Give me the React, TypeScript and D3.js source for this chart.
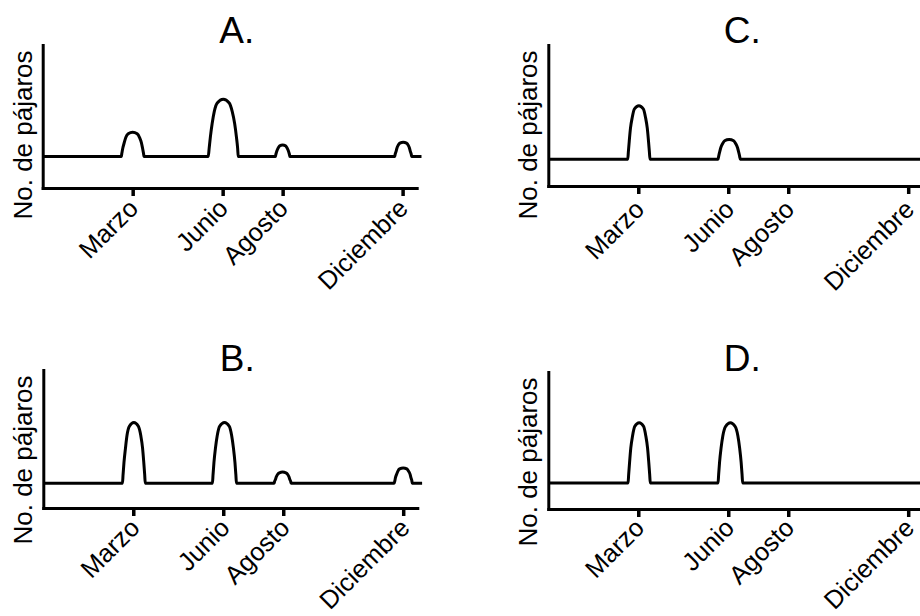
import React, { useEffect, useRef } from 'react';
import * as d3 from 'd3';

// ---- Data (month index on x, relative number of birds on y, 0–100) ----
const monthTicks: number[] = [3, 6, 8, 12];
const monthLabels: string[] = ['Marzo', 'Junio', 'Agosto', 'Diciembre'];
const yLabel = 'No. de pájaros';
const panelTitles: string[] = ['A.', 'B.', 'C.', 'D.'];

const seriesA: [number, number][] = [
  [0, 22],
  [2.62, 22], [2.64, 24.4], [2.67, 27.8], [2.72, 31.8], [2.77, 35.3], [2.85, 37.9], [3.0, 39],
  [3.15, 37.9], [3.23, 35.3], [3.29, 31.8], [3.33, 27.8], [3.36, 24.4], [3.38, 22],
  [5.52, 22], [5.55, 27.7], [5.59, 35.6], [5.65, 45.1], [5.72, 53.4], [5.82, 59.4], [6.02, 62],
  [6.22, 59.4], [6.32, 53.4], [6.4, 45.1], [6.46, 35.6], [6.5, 27.7], [6.52, 22],
  [7.76, 22], [7.77, 23.1], [7.79, 24.7], [7.82, 26.6], [7.86, 28.3], [7.9, 29.5], [8.0, 30],
  [8.1, 29.5], [8.14, 28.3], [8.18, 26.6], [8.21, 24.7], [8.23, 23.1], [8.24, 22],
  [11.74, 22], [11.75, 23.4], [11.78, 25.4], [11.81, 27.8], [11.85, 29.8], [11.91, 31.4], [12.02, 32],
  [12.13, 31.4], [12.19, 29.8], [12.23, 27.8], [12.26, 25.4], [12.29, 23.4], [12.3, 22],
  [12.63, 22],
];

const seriesB: [number, number][] = [
  [0, 18],
  [2.64, 18], [2.66, 24.3], [2.69, 33], [2.74, 43.4], [2.79, 52.5], [2.87, 59.2], [3.02, 62],
  [3.17, 59.2], [3.25, 52.5], [3.31, 43.4], [3.35, 33], [3.38, 24.3], [3.4, 18],
  [5.64, 18], [5.66, 24.3], [5.69, 33], [5.74, 43.4], [5.8, 52.5], [5.88, 59.2], [6.04, 62],
  [6.2, 59.2], [6.28, 52.5], [6.34, 43.4], [6.39, 33], [6.42, 24.3], [6.44, 18],
  [7.7, 18], [7.71, 19.1], [7.74, 20.7], [7.77, 22.6], [7.81, 24.3], [7.87, 25.5], [7.98, 26],
  [8.09, 25.5], [8.15, 24.3], [8.19, 22.6], [8.22, 20.7], [8.25, 19.1], [8.26, 18],
  [11.7, 18], [11.72, 19.6], [11.74, 21.8], [11.78, 24.4], [11.82, 26.6], [11.88, 28.3], [12.0, 29],
  [12.12, 28.3], [12.18, 26.6], [12.23, 24.4], [12.26, 21.8], [12.29, 19.6], [12.3, 18],
  [12.63, 18],
];

const seriesC: [number, number][] = [
  [0, 19],
  [2.65, 19], [2.67, 24.4], [2.7, 32], [2.74, 41], [2.8, 48.8], [2.87, 54.6], [3.02, 57],
  [3.17, 54.6], [3.24, 48.8], [3.3, 41], [3.34, 32], [3.37, 24.4], [3.39, 19],
  [5.66, 19], [5.68, 21], [5.71, 23.8], [5.75, 27.1], [5.81, 30], [5.88, 32.1], [6.03, 33],
  [6.18, 32.1], [6.25, 30], [6.31, 27.1], [6.35, 23.8], [6.38, 21], [6.4, 19],
  [12.63, 19],
];

const seriesD: [number, number][] = [
  [0, 19],
  [2.66, 19], [2.68, 25.3], [2.71, 34], [2.75, 44.4], [2.81, 53.5], [2.88, 60.2], [3.03, 63],
  [3.18, 60.2], [3.25, 53.5], [3.31, 44.4], [3.35, 34], [3.38, 25.3], [3.4, 19],
  [5.66, 19], [5.68, 25.3], [5.71, 34], [5.76, 44.4], [5.82, 53.5], [5.91, 60.2], [6.07, 63],
  [6.23, 60.2], [6.32, 53.5], [6.38, 44.4], [6.43, 34], [6.46, 25.3], [6.48, 19],
  [12.63, 19],
];

const X_MAX = 12.47;
const Y_MAX = 100;

// ---- Layout (pixel positions of each panel) ----
const panels = [
  { title: panelTitles[0], data: seriesA, axisX: 42.7, axisTop: 45, axisY: 188, titleY: 43, labelDx: 6.5, labelDy: 22 },
  { title: panelTitles[1], data: seriesB, axisX: 43.3, axisTop: 370, axisY: 508, titleY: 371, labelDx: 7.5, labelDy: 21.5 },
  { title: panelTitles[2], data: seriesC, axisX: 548.3, axisTop: 45, axisY: 186, titleY: 43, labelDx: 7, labelDy: 25 },
  { title: panelTitles[3], data: seriesD, axisX: 548.3, axisTop: 372, axisY: 509, titleY: 371, labelDx: 7, labelDy: 20.5 },
];

const FONT = '"Liberation Sans", Arial, Helvetica, sans-serif';

export default function App() {
  const ref = useRef<SVGSVGElement | null>(null);

  useEffect(() => {
    const svg = d3.select(ref.current);
    svg.selectAll('*').remove();

    panels.forEach((p) => {
      const x = d3.scaleLinear().domain([0, X_MAX]).range([p.axisX, p.axisX + 374]);
      const y = d3.scaleLinear().domain([0, Y_MAX]).range([p.axisY, p.axisTop]);
      const g = svg.append('g');

      // title
      g.append('text')
        .attr('x', p.axisX + 194)
        .attr('y', p.titleY)
        .attr('text-anchor', 'middle')
        .attr('font-family', FONT)
        .attr('font-size', 37)
        .attr('fill', '#000')
        .text(p.title);

      // y label
      g.append('text')
        .attr('transform', `translate(${p.axisX - 11},${p.axisTop + 90}) rotate(-90)`)
        .attr('text-anchor', 'middle')
        .attr('font-family', FONT)
        .attr('font-size', 26)
        .attr('fill', '#000')
        .text(yLabel);

      // y axis (domain line only)
      const yAxis = d3.axisLeft(y).tickValues([]).tickSizeOuter(0);
      const gy = g.append('g').attr('transform', `translate(${p.axisX},0)`).call(yAxis);
      gy.select('.domain').attr('stroke', '#000').attr('stroke-width', 3).attr('stroke-linecap', 'square');

      // x axis
      const xAxis = d3
        .axisBottom(x)
        .tickValues(monthTicks)
        .tickFormat((_d, i) => monthLabels[i])
        .tickSize(8)
        .tickSizeOuter(0);
      const gx = g.append('g').attr('transform', `translate(0,${p.axisY})`).call(xAxis);
      gx.select('.domain').attr('stroke', '#000').attr('stroke-width', 3).attr('stroke-linecap', 'square');
      gx.selectAll('.tick line').attr('stroke', '#000').attr('stroke-width', 3.5);
      gx.selectAll('.tick text')
        .attr('x', 0)
        .attr('y', 0)
        .attr('dy', 0)
        .attr('transform', `translate(${p.labelDx},${p.labelDy}) rotate(-45)`)
        .attr('text-anchor', 'end')
        .attr('font-family', FONT)
        .attr('font-size', 25.5)
        .attr('fill', '#000');

      // series line
      const line = d3
        .line<[number, number]>()
        .x((d) => x(d[0]))
        .y((d) => y(d[1]))
        .curve(d3.curveMonotoneX);
      g.append('path')
        .datum(p.data)
        .attr('d', line)
        .attr('fill', 'none')
        .attr('stroke', '#000')
        .attr('stroke-width', 3)
        .attr('stroke-linejoin', 'round');
    });
  }, []);

  return (
    <div style={{ position: 'absolute', left: 0, top: 0, width: 920, height: 616, background: '#fff' }}>
      <svg ref={ref} width={920} height={616} style={{ display: 'block' }} />
    </div>
  );
}
